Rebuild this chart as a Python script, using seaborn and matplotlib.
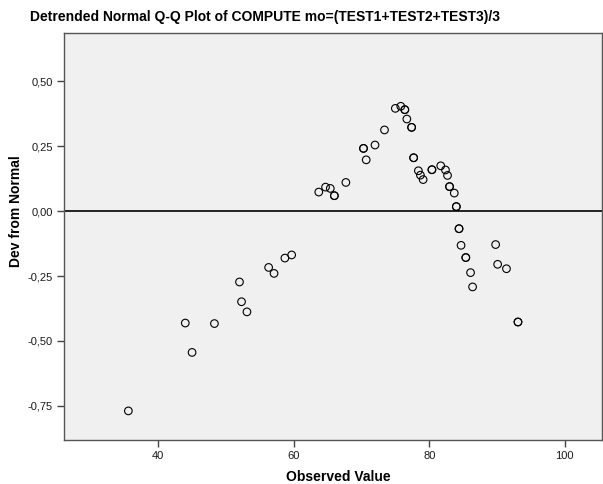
import matplotlib
matplotlib.use("Agg")
import matplotlib.pyplot as plt
import seaborn as sns
import pandas as pd
from matplotlib.ticker import FuncFormatter

# =============================================================================
# DATA (ties repeated)
# =============================================================================
observed = [35.6, 44.0, 45.0, 48.3, 52.0, 52.3, 53.1, 56.3, 57.1, 58.7, 59.7,
            63.7, 64.7, 65.4, 66.0, 66.0, 67.7, 70.3, 70.3, 70.7, 72.0, 73.4,
            75.0, 75.8, 76.4, 76.4, 76.7, 77.4, 77.4, 77.7, 77.7, 78.4, 78.7,
            79.1, 80.4, 80.4, 81.7, 82.4, 82.7, 83.0, 83.0, 83.7, 84.0, 84.0,
            84.4, 84.4, 84.7, 85.4, 85.4, 86.1, 86.4, 89.8, 90.1, 91.4, 93.1,
            93.1]
deviation = [-0.769, -0.431, -0.544, -0.433, -0.273, -0.349, -0.388, -0.217,
             -0.240, -0.181, -0.169, 0.073, 0.092, 0.087, 0.059, 0.059, 0.110,
             0.241, 0.241, 0.197, 0.254, 0.312, 0.395, 0.403, 0.390, 0.390,
             0.354, 0.322, 0.322, 0.205, 0.205, 0.155, 0.138, 0.121, 0.159,
             0.159, 0.174, 0.158, 0.137, 0.094, 0.094, 0.069, 0.017, 0.017,
             -0.068, -0.068, -0.132, -0.179, -0.179, -0.237, -0.292, -0.129,
             -0.205, -0.222, -0.427, -0.427]

df = pd.DataFrame({"Observed Value": observed, "Dev from Normal": deviation})

# =============================================================================
# PLOT
# =============================================================================
sns.set_style("white")
plt.rcParams["font.family"] = ["Liberation Sans", "DejaVu Sans"]

fig = plt.figure(figsize=(6.03, 4.84), dpi=100)
ax = fig.add_axes([64 / 603, 1 - 440 / 484, 538 / 603, 407 / 484])
ax.set_facecolor("#f0f0f0")

ax.axhline(0, color="black", lw=1.2, zorder=1)
sns.scatterplot(data=df, x="Observed Value", y="Dev from Normal", ax=ax,
                marker="o", s=30, facecolor="none", edgecolor="black",
                linewidth=0.8, zorder=3)

ax.set_xlim(26.1, 105.5)
ax.set_ylim(-0.881, 0.685)
ax.set_xticks([40, 60, 80, 100])
ax.set_yticks([-0.75, -0.5, -0.25, 0.0, 0.25, 0.5])
ax.yaxis.set_major_formatter(FuncFormatter(lambda v, p: f"{v:.2f}".replace(".", ",")))
ax.tick_params(axis="both", length=5, width=1, color="#444444",
               labelsize=8, labelcolor="#1a1a1a", pad=3)
ax.tick_params(left=True, bottom=True)

for sp in ax.spines.values():
    sp.set_color("#555555")
    sp.set_linewidth(1)

ax.set_xlabel("Observed Value", fontsize=10, fontweight="bold", color="black")
ax.set_ylabel("Dev from Normal", fontsize=10, fontweight="bold", color="black")
ax.xaxis.set_label_coords(0.509, -0.074)
ax.yaxis.set_label_coords(-0.076, 0.563)
fig.text(265.5 / 603, 1 - 17 / 484,
         "Detrended Normal Q-Q Plot of COMPUTE mo=(TEST1+TEST2+TEST3)/3",
         ha="center", va="center", fontsize=10, fontweight="bold", color="black")

fig.savefig("out.png", dpi=100)
